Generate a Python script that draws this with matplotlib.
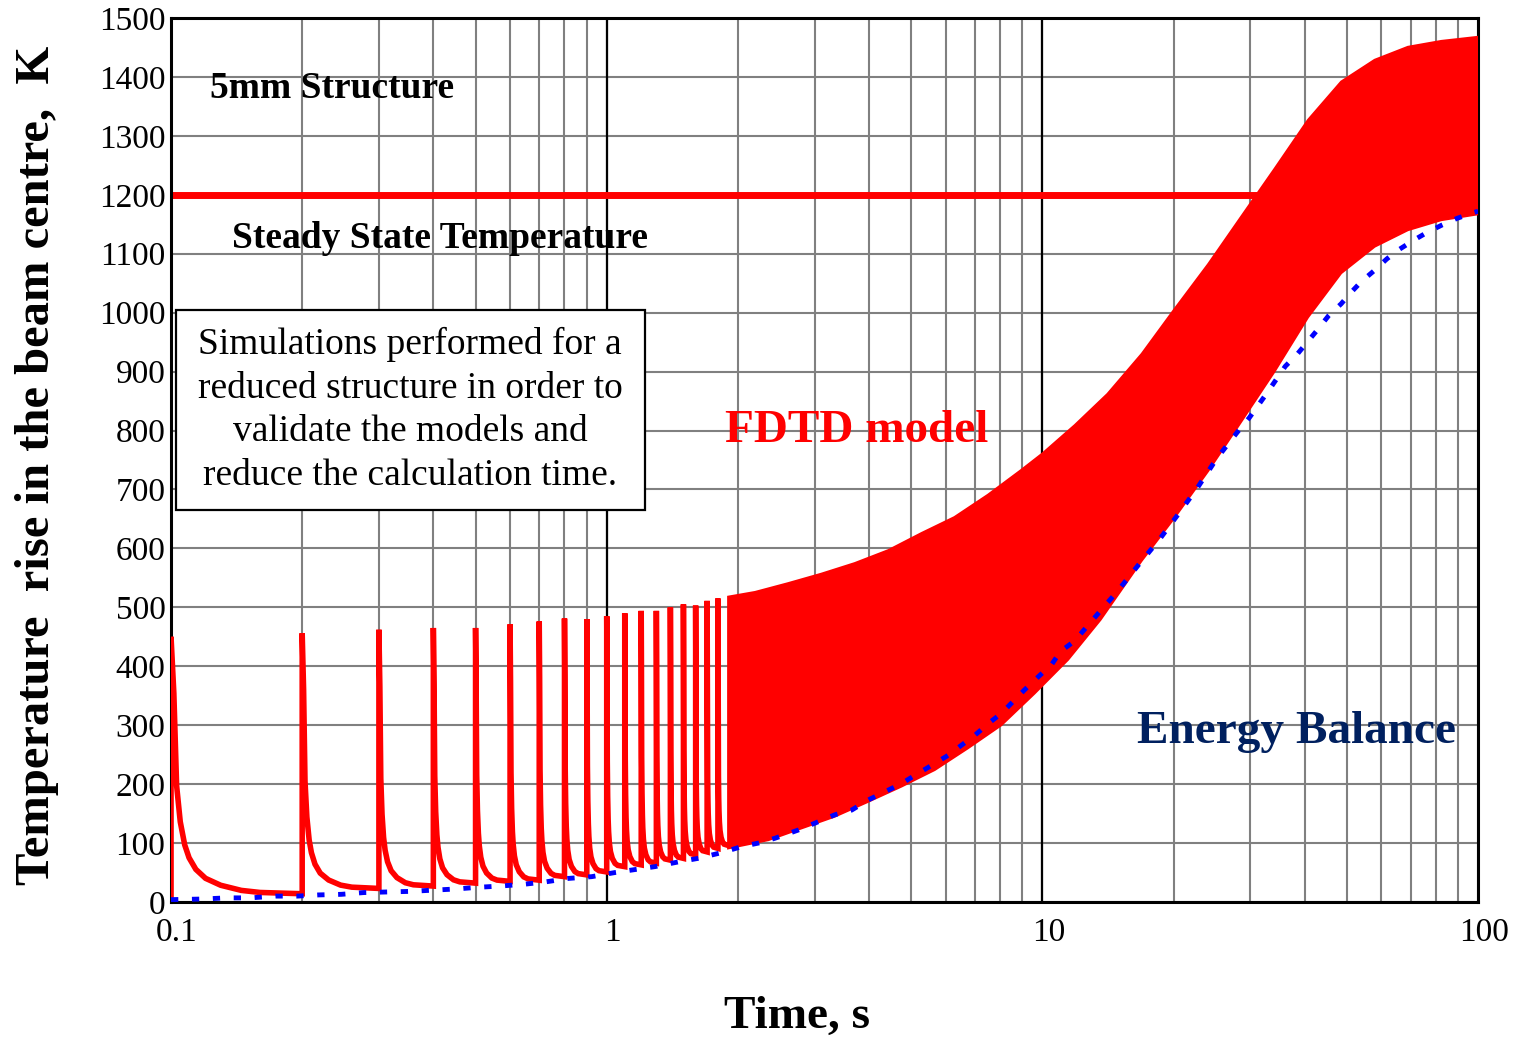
import numpy as np
import matplotlib
matplotlib.use('Agg')
from matplotlib import pyplot as plt
from matplotlib.patches import Rectangle
from matplotlib.ticker import MultipleLocator, LogLocator, NullFormatter
import matplotlib.transforms as mtransforms

plt.rcParams['font.family'] = ['Liberation Serif', 'DejaVu Serif']

# ---- values ----
# single heating pulses (one every 0.1 s) before they merge into a band
pulse_t = [0.1, 0.2, 0.3, 0.4, 0.5, 0.6, 0.7, 0.8, 0.9, 1.0, 1.1, 1.2, 1.3, 1.4, 1.5, 1.6, 1.7, 1.8]
pulse_peak = [450, 456, 462, 465, 465, 471, 476, 481, 480, 485, 490, 494, 494, 500, 505, 503, 511, 515]
pulse_floor = [14, 23, 27, 32, 35, 37, 43, 46, 51, 60, 63, 66, 71, 74, 80, 85, 91, 96]
start_T = 0.0

# shape of one pulse decay (read from the first pulse), fraction of peak above floor
decay_dt = [0, 0.0015, 0.003, 0.005, 0.0075, 0.01, 0.014, 0.02, 0.03, 0.045, 0.06, 0.1]
decay_frac = [1.0, 0.78, 0.42, 0.28, 0.19, 0.14, 0.095, 0.06, 0.033, 0.013, 0.005, 0.0]

# dense part of the FDTD response: upper (peaks) and lower (troughs) envelopes
band_t_top = [1.9, 2.19, 2.61, 3.11, 3.71, 4.43, 5.28, 6.28, 7.5, 8.94, 10.0, 11.86, 14.1,
              16.9, 20.1, 24.0, 28.6, 34.1, 40.7, 48.5, 57.9, 69.0, 82.3, 100]
band_top = [518, 526, 541, 557, 575, 597, 626, 653, 691, 733, 761, 809, 862,
            930, 1006, 1082, 1163, 1244, 1327, 1392, 1429, 1451, 1461, 1468]
band_t_bot = [1.9, 2.35, 2.8, 3.34, 3.98, 4.75, 5.66, 6.75, 8.05, 9.6, 11.45, 13.6,
              16.9, 20.1, 24.0, 28.6, 34.1, 40.7, 48.5, 57.9, 69.0, 82.3, 100]
band_bot = [91, 105, 125, 145, 170, 196, 224, 261, 300, 354, 411, 479,
            579, 652, 731, 815, 900, 992, 1067, 1112, 1140, 1157, 1167]

# energy balance model
eb_t = [0.1, 0.118, 0.134, 0.152, 0.174, 0.195, 0.218, 0.246, 0.277, 0.313, 0.354, 0.397,
        0.449, 0.508, 0.568, 0.644, 0.722, 0.817, 0.924, 1.045, 1.16, 1.29, 1.46, 1.62,
        1.84, 2.04, 2.23, 2.43, 2.75, 3.01, 3.34, 3.65, 3.98, 4.35, 4.75, 5.1, 5.66, 6.08,
        6.52, 7.0, 7.52, 8.05, 8.64, 9.1, 9.78, 10.5, 11.0, 11.86, 13.3, 14.9, 16.7, 18.6,
        20.5, 22.7, 25.1, 28.0, 29.8, 32.8, 36.1, 38.5, 42.7, 45.4, 48.5, 50.9, 54.0, 57.9,
        61.7, 65.5, 71.2, 76.3, 82.8, 89.5, 97.7, 100]
eb_T = [4, 5, 7, 7, 10, 10, 12, 13, 16, 17, 18, 20,
        22, 25, 27, 30, 34, 40, 43, 50, 55, 60, 68, 74,
        84, 94, 100, 108, 122, 134, 148, 156, 173, 187, 201, 215, 235, 249,
        266, 283, 303, 320, 343, 360, 382, 403, 425, 443, 486, 528, 574, 616,
        658, 703, 752, 797, 821, 864, 909, 930, 970, 995, 1015, 1033, 1053, 1072,
        1091, 1106, 1123, 1136, 1149, 1160, 1170, 1172]

steady_T = 1200
x_ticks = [0.1, 1, 10, 100]
x_ticklabels = ['0.1', '1', '10', '100']

# ---- build the pulse train line ----
fdtd_t, fdtd_T = [pulse_t[0]], [start_T]
for t0, peak, floor in zip(pulse_t, pulse_peak, pulse_floor):
    for dt, f in zip(decay_dt, decay_frac):
        fdtd_t.append(t0 + dt)
        fdtd_T.append(floor + (peak - floor) * f)

fig = plt.figure(figsize=(15.23, 10.4), dpi=100)
ax = fig.add_axes([0.1123, 0.1327, 0.8582, 0.850])

red = '#FF0000'
ax.axhline(steady_T, color=red, lw=5, zorder=2)
ax.plot(fdtd_t, fdtd_T, color=red, lw=4, zorder=3, solid_joinstyle='miter')
ax.fill(list(band_t_top) + band_t_bot[::-1], list(band_top) + band_bot[::-1],
        color=red, lw=1.5, zorder=3)
ax.plot(eb_t, eb_T, color='#0000FF', lw=3.5, linestyle=(0, (1.5, 2.8)), zorder=4)

ax.axvline(1, color='black', lw=1.6, zorder=1)
ax.axvline(10, color='black', lw=1.6, zorder=1)

ax.set_xscale('log')
ax.set_xlim(0.1, 100)
ax.set_ylim(0, 1500)
ax.yaxis.set_major_locator(MultipleLocator(100))
ax.xaxis.set_minor_locator(LogLocator(base=10, subs=np.arange(2, 10)))
ax.xaxis.set_minor_formatter(NullFormatter())
ax.set_xticks(x_ticks)
ax.set_xticklabels(x_ticklabels)
ax.grid(which='both', color='#808080', lw=1.5)
ax.set_axisbelow(True)
ax.tick_params(which='both', length=0, labelsize=24)
ax.tick_params(axis='x', pad=11)
ax.tick_params(axis='y', pad=4)
for sp in ax.spines.values():
    sp.set_linewidth(2.2)

shift = mtransforms.ScaledTranslation(6 / 100, 0, fig.dpi_scale_trans)
for lab in ax.get_xticklabels():
    lab.set_transform(lab.get_transform() + shift)

# annotations
ax.text(0.0298, 0.9095, '5mm Structure', transform=ax.transAxes, fontsize=27,
        fontweight='bold', ha='left', va='baseline', zorder=6)
ax.text(0.0467, 0.7398, 'Steady State Temperature', transform=ax.transAxes, fontsize=27,
        fontweight='bold', ha='left', va='baseline', zorder=6)
ax.text(0.4239, 0.5204, 'FDTD model', transform=ax.transAxes, fontsize=34,
        fontweight='bold', color=red, ha='left', va='baseline', zorder=6)
ax.text(0.739, 0.1799, 'Energy Balance', transform=ax.transAxes, fontsize=34,
        fontweight='bold', color='#00205F', ha='left', va='baseline', zorder=6)

ax.add_patch(Rectangle((0.0038, 0.4434), 0.3589, 0.2263, transform=ax.transAxes,
                       facecolor='white', edgecolor='black', lw=1.6, zorder=5))
ax.text(0.1829, 0.5566,
        'Simulations performed for a\nreduced structure in order to\n'
        'validate the models and\nreduce the calculation time.',
        transform=ax.transAxes, fontsize=27, ha='center', va='center',
        multialignment='center', linespacing=1.35, zorder=6)

fig.text(37 / 1523, 1 - 465 / 1040, 'Temperature  rise in the beam centre,  K',
         rotation=90, fontsize=35, fontweight='bold', ha='center', va='center')
fig.text(797 / 1523, 1 - 1017 / 1040, 'Time, s', fontsize=34, fontweight='bold',
         ha='center', va='center')

fig.savefig('out.png', dpi=100)
